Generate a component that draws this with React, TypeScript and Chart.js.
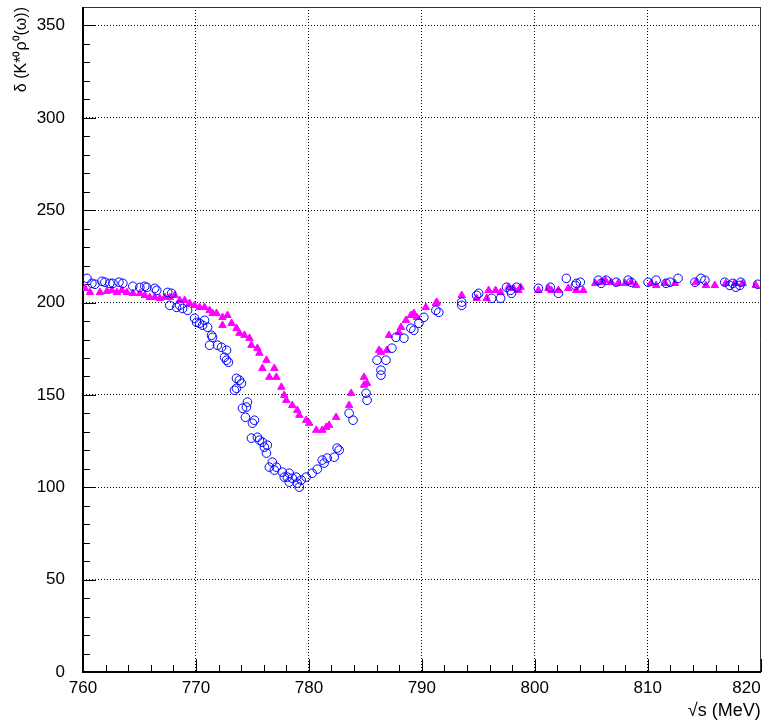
import React, { useEffect, useRef } from 'react';
import { Chart, registerables } from 'chart.js';

Chart.register(...registerables);

// Blue open circles
const circleX = [
  760.35, 760.79, 761.06, 761.68, 761.94, 762.38, 762.65, 763.18, 763.53, 764.41,
  765.03, 765.47, 765.65, 766.35, 766.53, 767.5, 767.85, 767.68, 768.29, 768.56,
  768.82, 769.26, 769.88, 770.06, 770.32, 770.59, 770.76, 771.03, 771.38, 771.47,
  771.21, 771.91, 772.26, 772.71, 772.53, 772.71, 772.88, 773.59, 773.85, 774.03,
  773.59, 773.41, 774.56, 774.47, 774.12, 774.38, 775.18, 775.0, 774.91, 775.44,
  775.62, 775.88, 776.06, 776.32, 776.24, 776.76, 776.5, 777.12, 776.94, 777.65,
  777.82, 778.09, 778.26, 778.26, 778.53, 778.88, 778.97, 779.15, 779.32, 779.76,
  780.29, 780.74, 781.18, 781.35, 781.62, 782.24, 782.5, 782.68, 783.56, 783.91,
  785.06, 785.15, 786.03, 786.38, 786.38, 786.82, 787.35, 787.71, 788.41, 789.03,
  789.29, 789.74, 790.18, 791.24, 791.5, 793.53, 793.53, 794.85, 795.03, 796.18,
  796.97, 797.5, 797.85, 797.94, 798.38, 800.32, 801.38, 802.09, 802.79, 803.59,
  803.68, 804.03, 805.62, 805.88, 806.32, 807.21, 808.26, 808.53, 810.03, 810.74,
  811.62, 811.97, 812.68, 814.18, 814.71, 815.06, 816.82, 817.26, 817.53, 817.79,
  818.15, 818.24, 819.74,
];
const circleY = [
  213.1, 210.4, 209.9, 211.5, 211.0, 210.4, 210.4, 211.0, 210.4, 208.8,
  208.2, 208.8, 208.2, 207.7, 206.6, 205.5, 205.0, 198.5, 197.4, 198.5,
  196.8, 195.8, 191.5, 189.3, 188.8, 187.7, 190.4, 186.6, 182.3, 181.2,
  176.9, 176.9, 175.8, 174.2, 170.4, 168.8, 167.7, 159.0, 158.0, 156.3,
  153.6, 152.5, 146.1, 143.4, 142.8, 137.9, 136.3, 134.7, 126.6, 127.1,
  125.5, 124.4, 121.7, 122.8, 118.5, 113.6, 110.9, 110.9, 109.3, 108.2,
  105.5, 105.5, 107.6, 102.8, 104.9, 105.5, 102.2, 100.1, 103.9, 105.5,
  107.6, 109.8, 114.7, 113.1, 115.8, 116.3, 121.2, 120.1, 140.1, 136.3,
  150.9, 147.1, 168.8, 163.4, 160.7, 168.8, 175.3, 181.2, 180.7, 186.1,
  185.0, 188.8, 192.0, 195.8, 194.7, 200.2, 198.5, 203.9, 205.0, 202.3,
  202.3, 208.3, 206.6, 205.0, 208.3, 207.7, 208.3, 205.0, 213.1, 209.3,
  210.4, 211.0, 212.1, 210.4, 212.1, 211.0, 212.1, 211.0, 211.0, 212.1,
  210.4, 211.0, 213.1, 211.0, 213.1, 212.1, 211.0, 209.3, 210.4, 208.3,
  209.3, 211.0, 209.9,
];

// Magenta filled triangles
const triX = [
  760.18, 760.62, 761.5, 762.12, 762.56, 763.0, 763.44, 763.88, 764.41, 765.03,
  765.47, 765.91, 766.35, 766.79, 767.24, 767.68, 768.12, 768.56, 769.0, 769.44,
  769.88, 770.32, 770.76, 771.21, 771.47, 771.82, 772.35, 772.79, 772.35, 773.15,
  773.59, 773.85, 774.29, 774.74, 774.91, 775.44, 775.62, 776.24, 775.88, 776.94,
  776.5, 777.12, 777.56, 777.82, 778.0, 778.53, 778.97, 779.15, 779.76, 780.03,
  780.65, 781.18, 781.53, 781.79, 782.41, 783.56, 783.74, 784.88, 784.88, 785.15,
  786.21, 786.38, 786.91, 787.09, 787.97, 788.15, 788.59, 789.03, 789.29, 789.56,
  790.35, 791.24, 791.32, 793.53, 794.85, 795.74, 795.91, 796.53, 796.97, 797.68,
  798.12, 798.56, 798.74, 800.32, 801.21, 801.47, 802.09, 802.97, 803.68, 804.29,
  805.35, 805.88, 806.24, 806.76, 807.38, 808.0, 808.53, 808.97, 810.29, 810.74,
  811.53, 812.41, 814.26, 815.15, 815.94, 816.91, 817.71, 818.41, 819.56,
];
const triY = [
  207.7, 205.5, 205.5, 206.1, 206.6, 205.5, 206.6, 205.5, 205.0, 205.0,
  203.9, 202.8, 202.8, 202.3, 202.8, 202.8, 203.9, 201.2, 201.2, 199.6,
  198.5, 197.4, 197.4, 195.8, 194.2, 194.2, 192.0, 193.1, 187.7, 188.8,
  186.1, 183.4, 182.3, 180.7, 176.9, 175.3, 172.6, 168.8, 164.4, 164.4,
  159.6, 159.6, 154.2, 149.8, 147.1, 144.4, 141.7, 139.0, 136.3, 134.7,
  130.9, 130.9, 132.5, 133.6, 137.9, 144.4, 150.9, 159.6, 155.3, 156.3,
  174.2, 173.1, 174.2, 182.3, 183.9, 186.6, 190.4, 193.1, 194.2, 192.0,
  197.4, 199.6, 200.2, 203.9, 202.3, 202.3, 206.6, 206.6, 205.5, 208.3,
  207.7, 206.6, 208.3, 206.6, 207.7, 206.6, 206.6, 207.7, 206.6, 206.6,
  210.4, 211.0, 212.1, 211.0, 210.4, 210.4, 211.0, 209.3, 210.4, 209.3,
  210.4, 210.4, 211.0, 209.3, 209.3, 210.4, 210.4, 210.4, 209.3,
];

const X_MIN = 760;
const X_MAX = 820;
const X_MAJOR = 10;
const X_MINOR = 2;
const Y_MIN = 0;
const Y_MAX = 360;
const Y_MAJOR = 50;
const Y_MINOR = 10;

const yTitle = 'δ (K*⁰ρ⁰(ω))';
const xTitle = '√s (MeV)';

const FONT = "'Liberation Sans', Arial, Helvetica, sans-serif";

const frameTicks = {
  id: 'frameTicks',
  beforeDatasetsDraw(chart: any) {
    const { ctx, chartArea: a, scales } = chart;
    const x = scales.x;
    const y = scales.y;
    ctx.save();
    ctx.strokeStyle = '#000';
    ctx.lineWidth = 1;
    ctx.beginPath();
    for (let v = X_MIN; v <= X_MAX + 1e-9; v += X_MINOR) {
      const px = Math.round(x.getPixelForValue(v)) + 0.5;
      const major = Math.abs((v - X_MIN) % X_MAJOR) < 1e-6;
      const len = major ? 13 : 7;
      ctx.moveTo(px, a.bottom);
      ctx.lineTo(px, a.bottom - len);
    }
    for (let v = Y_MIN; v <= Y_MAX + 1e-9; v += Y_MINOR) {
      const py = Math.round(y.getPixelForValue(v)) + 0.5;
      const major = Math.abs((v - Y_MIN) % Y_MAJOR) < 1e-6;
      const len = major ? 13 : 7;
      ctx.moveTo(a.left, py);
      ctx.lineTo(a.left + len, py);
    }
    ctx.stroke();
    ctx.strokeStyle = '#333';
    ctx.beginPath();
    ctx.moveTo(Math.round(a.left), Math.round(a.top) + 0.5);
    ctx.lineTo(Math.round(a.right) - 0.5, Math.round(a.top) + 0.5);
    ctx.lineTo(Math.round(a.right) - 0.5, Math.round(a.bottom));
    ctx.stroke();
    ctx.strokeStyle = '#000';
    ctx.lineWidth = 2;
    ctx.beginPath();
    ctx.moveTo(Math.round(a.left), Math.round(a.top));
    ctx.lineTo(Math.round(a.left), Math.round(a.bottom));
    ctx.lineTo(Math.round(a.right), Math.round(a.bottom));
    ctx.stroke();
    ctx.restore();
  },
};

const zeroPad = (s: any) => {
  s.paddingTop = 0;
  s.paddingBottom = 0;
  s.paddingLeft = 0;
  s.paddingRight = 0;
};

export default function App() {
  const canvasRef = useRef<HTMLCanvasElement | null>(null);

  useEffect(() => {
    const canvas = canvasRef.current;
    if (!canvas) return;
    const circles = circleX.map((v, i) => ({ x: v, y: circleY[i] }));
    const tris = triX.map((v, i) => ({ x: v, y: triY[i] }));
    const chart = new Chart(canvas, {
      type: 'scatter',
      data: {
        datasets: [
          {
            label: 'circles',
            data: circles,
            pointStyle: 'circle',
            pointRadius: 4.3,
            pointBorderWidth: 1,
            borderColor: '#0000ff',
            backgroundColor: 'rgba(0,0,0,0)',
          },
          {
            label: 'triangles',
            data: tris,
            pointStyle: 'triangle',
            pointRadius: 4.3,
            pointBorderWidth: 1,
            borderColor: '#ff00ff',
            backgroundColor: '#ff00ff',
          },
        ],
      },
      options: {
        responsive: false,
        animation: false,
        events: [],
        layout: { padding: { top: 7, right: 3, left: 0, bottom: 0 } },
        plugins: {
          legend: { display: false },
          tooltip: { enabled: false },
          title: { display: false },
        },
        scales: {
          x: {
            type: 'linear',
            min: X_MIN,
            max: X_MAX,
            afterFit: (s: any) => {
              s.height = 54;
              zeroPad(s);
            },
            ticks: {
              stepSize: X_MAJOR,
              color: '#000',
              padding: 6,
              maxRotation: 0,
              font: { family: FONT, size: 17 },
              callback: (v: any) =>
                v === X_MAX ? String(v) + '\u00a0\u00a0\u00a0\u00a0\u00a0\u00a0' : String(v),
            },
            grid: {
              color: '#000',
              lineWidth: 1,
              drawTicks: false,
            },
            border: { display: false, dash: [1, 2] },
            title: {
              display: true,
              text: xTitle,
              align: 'end',
              color: '#000',
              font: { family: FONT, size: 18 },
              padding: { top: 0, bottom: 4 },
            },
          },
          y: {
            type: 'linear',
            min: Y_MIN,
            max: Y_MAX,
            afterFit: (s: any) => {
              s.width = 83;
              zeroPad(s);
            },
            ticks: {
              stepSize: Y_MAJOR,
              includeBounds: false,
              color: '#000',
              padding: 18,
              font: { family: FONT, size: 17 },
            },
            grid: {
              color: '#000',
              lineWidth: 1,
              drawTicks: false,
            },
            border: { display: false, dash: [1, 2] },
            title: {
              display: true,
              text: yTitle,
              align: 'end',
              color: '#000',
              font: { family: FONT, size: 16 },
              padding: { top: 12, bottom: 0 },
            },
          },
        },
      },
      plugins: [frameTicks],
    } as any);
    return () => chart.destroy();
  }, []);

  return (
    <div style={{ position: 'absolute', left: 0, top: 0, width: 766, height: 726, background: '#fff' }}>
      <canvas ref={canvasRef} width={766} height={726} style={{ display: 'block' }} />
    </div>
  );
}
